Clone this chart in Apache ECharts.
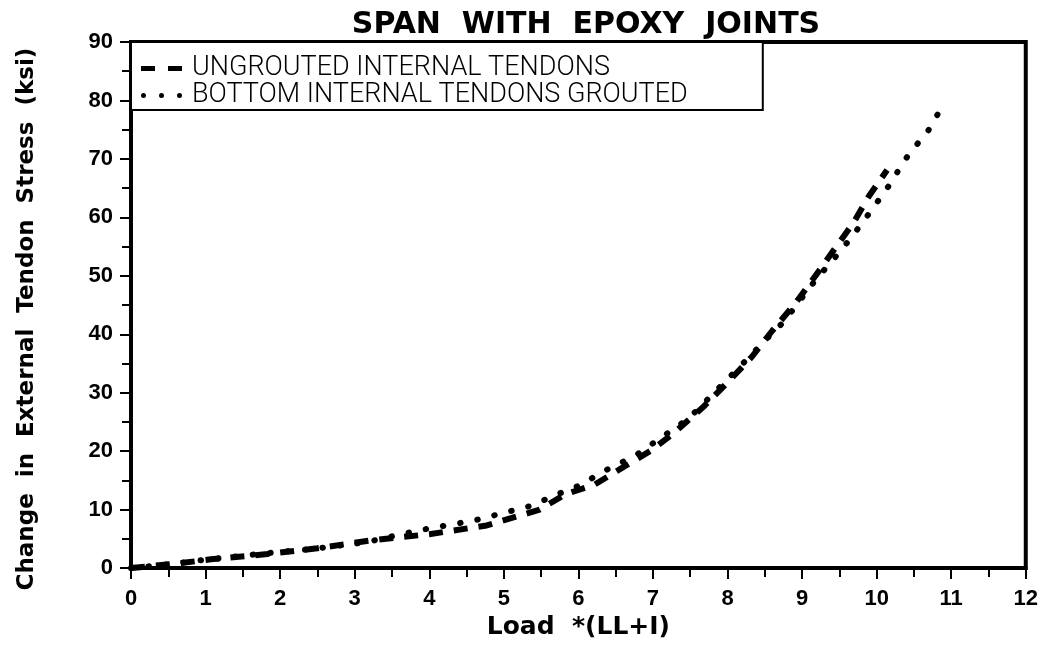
<!DOCTYPE html>
<html>
<head>
<meta charset="utf-8">
<script src="https://cdn.jsdelivr.net/npm/echarts@6/dist/echarts.min.js"></script>
<style>
html,body{margin:0;padding:0;background:#fff;}
#chart{width:1041px;height:645px;}
</style>
</head>
<body>
<div id="chart"></div>
<script>
var titleText = 'SPAN  WITH  EPOXY  JOINTS';
var xAxisName = 'Load  *(LL+I)';
var yAxisName = 'Change  in  External  Tendon  Stress  (ksi)';
var seriesNames = ['UNGROUTED INTERNAL TENDONS', 'BOTTOM INTERNAL TENDONS GROUTED'];

var ungroutedX = [0, 0.7, 1.07, 1.83, 2.5, 3.25, 4.0, 4.77, 5.48, 5.82, 6.22, 6.58, 6.96, 7.29, 7.67, 7.99, 8.33, 8.6, 8.91, 9.18, 9.43, 9.69, 9.9, 10.14];
var ungroutedY = [0, 0.9, 1.5, 2.4, 3.4, 4.8, 5.8, 7.3, 10.0, 12.6, 14.3, 17.1, 20.0, 23.2, 27.5, 31.6, 36.2, 40.6, 45.3, 50.0, 54.5, 59.1, 63.7, 68.1];

var groutedX = [0, 0.4, 0.98, 1.7, 2.45, 3.14, 3.88, 4.62, 5.35, 5.79, 6.05, 6.27, 6.77, 7.48, 8.17, 8.53, 8.76, 9.12, 9.31, 9.52, 9.71, 9.89, 10.07, 10.23, 10.33, 10.49, 10.69, 10.84];
var groutedY = [0, 0.5, 1.4, 2.4, 3.3, 4.4, 6.5, 8.2, 10.6, 13.0, 14.3, 16.1, 19.3, 25.6, 34.5, 39.3, 42.2, 48.3, 51.2, 54.3, 57.4, 60.5, 63.7, 66.6, 69.0, 71.7, 74.8, 78.1];

function pairs(xs, ys) { return xs.map(function (x, i) { return [x, ys[i]]; }); }

var dashIcon = 'path://M0,0L14,0L14,5L0,5Z M27,0L41,0L41,5L27,5Z';
var dotIcon = 'path://M0,2.5a2.5,2.5 0 1,0 5,0a2.5,2.5 0 1,0 -5,0Z M18,2.5a2.5,2.5 0 1,0 5,0a2.5,2.5 0 1,0 -5,0Z M36,2.5a2.5,2.5 0 1,0 5,0a2.5,2.5 0 1,0 -5,0Z';

var chart = echarts.init(document.getElementById('chart'), null, {renderer: 'canvas'});
var boldFont = 'DejaVu Sans';
var tickFont = 'Liberation Sans';
chart.setOption({
  animation: false,
  backgroundColor: '#fff',
  title: {
    text: titleText,
    left: 581, top: 5, textAlign: 'center',
    textStyle: {fontFamily: boldFont, fontWeight: 'bold', fontSize: 30, color: '#000'}
  },
  legend: {
    orient: 'vertical',
    left: 131, top: 42,
    padding: [13, 75, 1, 10],
    itemGap: 0,
    itemWidth: 41, itemHeight: 5,
    borderColor: '#000', borderWidth: 2,
    backgroundColor: '#fff',
    itemStyle: {color: '#000'},
    textStyle: {fontFamily: 'Roboto', fontWeight: 300, fontSize: 27, lineHeight: 27, color: '#000', padding: [0, 0, 0, 5]},
    data: [{name: seriesNames[0], icon: dashIcon}, {name: seriesNames[1], icon: dotIcon}]
  },
  grid: {left: 131, right: 14, top: 42, bottom: 76, show: true, borderColor: '#000', borderWidth: 4},
  xAxis: {
    type: 'value', min: 0, max: 12, interval: 1,
    name: xAxisName, nameLocation: 'middle', nameGap: 44,
    nameTextStyle: {fontFamily: boldFont, fontWeight: 'bold', fontSize: 25, color: '#000'},
    axisLine: {lineStyle: {color: '#000', width: 4}},
    axisTick: {length: 11, lineStyle: {color: '#000', width: 2}},
    minorTick: {show: true, splitNumber: 2, length: 9, lineStyle: {color: '#000', width: 2}},
    splitLine: {show: false},
    axisLabel: {fontFamily: tickFont, fontWeight: 'bold', fontSize: 22, color: '#000', margin: 20}
  },
  yAxis: {
    type: 'value', min: 0, max: 90, interval: 10,
    name: yAxisName, nameLocation: 'middle', nameGap: 92, nameRotate: 90,
    nameTextStyle: {fontFamily: boldFont, fontWeight: 'bold', fontSize: 23, color: '#000', padding: [0, 28, 0, 0]},
    axisLine: {lineStyle: {color: '#000', width: 4}},
    axisTick: {length: 11, lineStyle: {color: '#000', width: 2}},
    minorTick: {show: true, splitNumber: 2, length: 9, lineStyle: {color: '#000', width: 2}},
    splitLine: {show: false},
    axisLabel: {fontFamily: tickFont, fontWeight: 'bold', fontSize: 22, color: '#000', margin: 18}
  },
  series: [
    {
      name: seriesNames[0], type: 'line', showSymbol: false, symbol: 'none', smooth: false,
      data: pairs(ungroutedX, ungroutedY),
      lineStyle: {color: '#000', width: 6, type: [14, 11]},
      itemStyle: {color: '#000'}
    },
    {
      name: seriesNames[1], type: 'line', showSymbol: false, symbol: 'none', smooth: false,
      data: pairs(groutedX, groutedY),
      lineStyle: {color: '#000', width: 6, type: [0.5, 17], cap: 'round'},
      itemStyle: {color: '#000'}
    }
  ]
});
</script>
</body>
</html>
